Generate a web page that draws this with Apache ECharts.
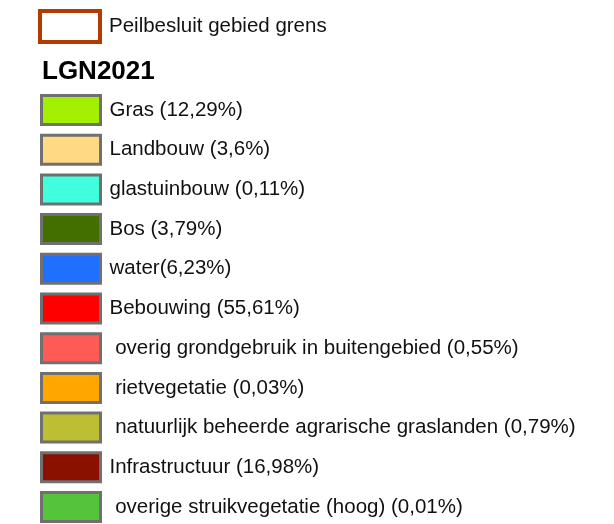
<!DOCTYPE html>
<html><head><meta charset="utf-8">
<script src="https://cdn.jsdelivr.net/npm/echarts@6/dist/echarts.min.js"></script>
<style>html,body{margin:0;padding:0;background:#fff}#c{width:614px;height:524px}</style>
</head><body><div id="c"></div>
<script>
const boundaryName = 'Peilbesluit gebied grens';
const boundaryColor = '#b23c00';
const legendTitle = 'LGN2021';
const classNames = [
  'Gras (12,29%)',
  'Landbouw (3,6%)',
  'glastuinbouw (0,11%)',
  'Bos (3,79%)',
  'water(6,23%)',
  'Bebouwing (55,61%)',
  ' overig grondgebruik in buitengebied (0,55%)',
  ' rietvegetatie (0,03%)',
  ' natuurlijk beheerde agrarische graslanden (0,79%)',
  'Infrastructuur (16,98%)',
  ' overige struikvegetatie (hoog) (0,01%)'
];
const classColors = ['#a2f000','#ffd984','#40ffdc','#436f00','#2070ff','#ff0000','#ff5b56','#ffa600','#bdbe33','#8a1100','#56c43b'];

const chart = echarts.init(document.getElementById('c'), null, {renderer:'canvas'});
const font = {fontFamily:'Liberation Sans, Arial, sans-serif', fontSize:20.5, color:'#111', padding:[0,0,0,4]};
const series = [{name:boundaryName, type:'bar', data:[], itemStyle:{color:'#fff', borderColor:boundaryColor, borderWidth:4}}]
  .concat(classNames.map((n,i)=>({name:n, type:'bar', data:[], itemStyle:{color:classColors[i], borderColor:'#707070', borderWidth:3}})));
chart.setOption({
  animation:false,
  grid:{show:false, left:-100, top:-100, width:10, height:10},
  xAxis:{show:false, type:'category', data:[]},
  yAxis:{show:false, type:'value'},
  title:{text:legendTitle, left:42, top:59, padding:0, textStyle:{fontFamily:'Liberation Sans, Arial, sans-serif', fontSize:26, fontWeight:'bold', color:'#000'}},
  legend:[
    {data:[boundaryName], orient:'vertical', left:38, top:9, padding:0, icon:'rect', itemWidth:60, itemHeight:31,
     itemStyle:{borderColor:boundaryColor, borderWidth:4}, textStyle:font, selectedMode:false},
    {data:classNames, orient:'vertical', left:40, top:94, height:470, padding:0, icon:'rect', itemWidth:59, itemHeight:29, itemGap:7.7,
     itemStyle:{borderColor:'#707070', borderWidth:3}, textStyle:font, selectedMode:false}
  ],
  series:series
});
</script></body></html>
